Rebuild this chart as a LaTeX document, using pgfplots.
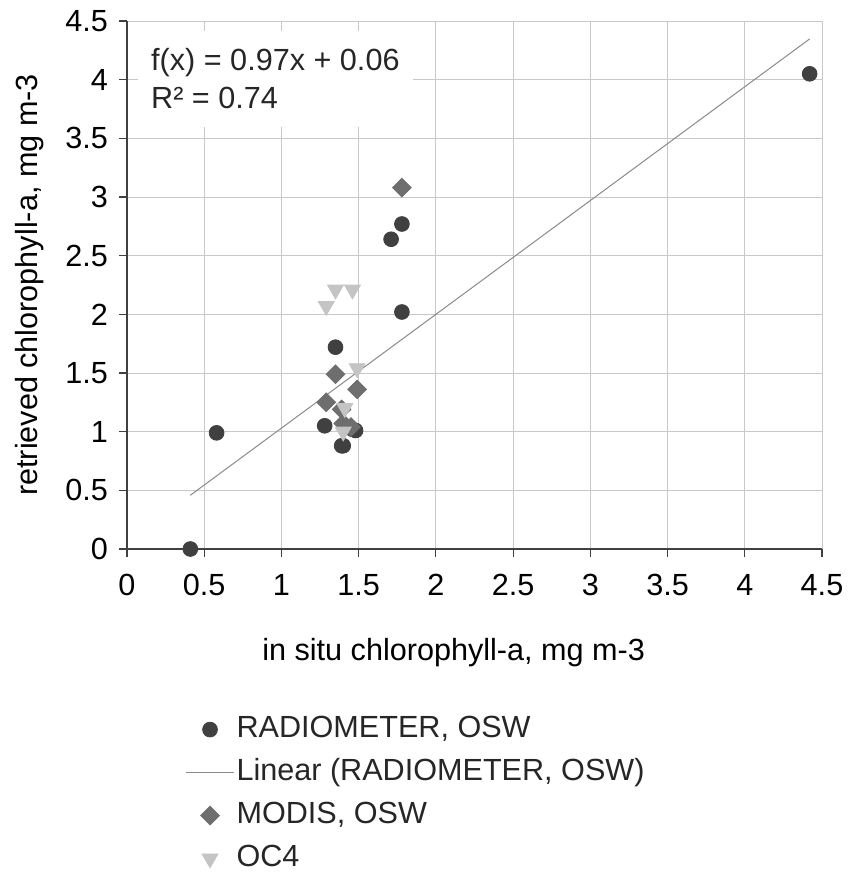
\documentclass[border=0pt]{standalone}
\usepackage{pgfplots}
\pgfplotsset{compat=1.18}
\usepackage{fontspec}
\setmainfont{Liberation Sans}
\definecolor{cRad}{HTML}{404040}
\definecolor{cMod}{HTML}{6E6E6E}
\definecolor{cOc}{HTML}{C4C4C4}
\definecolor{cLin}{HTML}{8A8A8A}
\definecolor{cGrid}{HTML}{C8C8C8}
\pgfplotsset{
  markleg/.style={legend image code/.code={\draw[mark repeat=2,mark phase=2,##1] plot coordinates {(0pt,0pt) (12pt,0pt) (24pt,0pt)};}},
  lineleg/.style={legend image code/.code={\draw[##1] (0pt,0pt) -- (24pt,0pt);}},
}
\begin{document}
\begin{tikzpicture}
\begin{axis}[
  scale only axis, width=347.5pt, height=264pt,
  xmin=0, xmax=4.5, ymin=0, ymax=4.5,
  xtick={0,0.5,...,4.5}, ytick={0,0.5,...,4.5},
  xticklabels={0,0.5,1,1.5,2,2.5,3,3.5,4,4.5},
  yticklabels={0,0.5,1,1.5,2,2.5,3,3.5,4,4.5},
  font=\fontsize{15.3}{18}\selectfont,
  /pgf/number format/assume math mode=true,
  axis lines*=left,
  axis line style={draw=black!75, line width=0.6pt},
  tick style={draw=black!75, line width=0.6pt},
  tick align=outside, major tick length=4pt,
  grid=major, major grid style={draw=cGrid, line width=0.5pt},
  xticklabel style={yshift=-5pt},
  yticklabel style={xshift=-2pt},
  xlabel={in situ chlorophyll-a, mg m-3},
  ylabel={retrieved chlorophyll-a, mg m-3},
  xlabel style={at={(axis description cs:0.47,0)}, anchor=north, yshift=-41pt},
  ylabel style={at={(axis description cs:-0.14,0.5)}, anchor=center},
  legend style={at={(axis description cs:0.075,-0.31)}, anchor=north west,
    yshift=2pt, draw=none, fill=none, row sep=5pt,
    nodes={inner sep=1pt, text height=11pt, text depth=3.5pt, text=black!85}},
  legend cell align=left,
  clip=false,
]
\addplot[only marks, mark=*, mark size=3.7pt, color=cRad, mark options={fill=cRad, draw=cRad}, markleg]
  coordinates {
  (0.41,0.00) (0.58,0.99) (1.28,1.05) (1.35,1.72) (1.39,0.88) (1.40,0.88)
  (1.46,1.02) (1.48,1.01) (1.71,2.64) (1.78,2.77) (1.78,2.02) (4.42,4.05)};
\addlegendentry{RADIOMETER, OSW}
\addplot[color=cLin, line width=0.5pt, no marks, lineleg]
  coordinates {(0.41,0.458) (4.42,4.347)};
\addlegendentry{Linear (RADIOMETER, OSW)}
\addplot[only marks, mark=square*, mark size=3.3pt, color=cMod, mark options={fill=cMod, draw=cMod, rotate=45}, markleg]
  coordinates {
  (1.78,3.08) (1.35,1.49) (1.49,1.36) (1.29,1.25) (1.39,1.19) (1.40,1.07) (1.45,1.04)};
\addlegendentry{MODIS, OSW}
\addplot[only marks, mark=triangle*, mark size=4.6pt, color=cOc, mark options={fill=cOc, draw=cOc, rotate=180}, markleg]
  coordinates {
  (1.35,2.21) (1.46,2.21) (1.29,2.07) (1.49,1.54) (1.41,1.20) (1.40,1.00)};
\addlegendentry{OC4}
\node[anchor=north west, fill=white, inner xsep=6.5pt, inner ysep=9pt, align=left,
  font=\fontsize{15.3}{19}\selectfont, text=black!85]
  at (axis cs:0.07,4.42) {f(x) = 0.97x + 0.06\\[0pt]R² = 0.74};
\end{axis}
\pgfresetboundingbox
\path[use as bounding box] (-63.5pt,-161.5pt) rectangle (360pt,274.5pt);
\end{tikzpicture}
\end{document}
